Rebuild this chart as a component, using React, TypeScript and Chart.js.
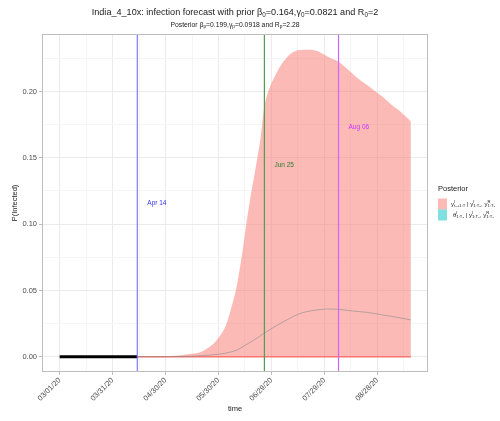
import React, { useEffect, useRef } from "react";
import { Chart, registerables } from "chart.js";

Chart.register(...registerables);

const FONT = '"Liberation Sans", Arial, Helvetica, sans-serif';

// x values are days since 03/01/20
const tickDays = [0, 30, 60, 90, 120, 150, 180];
const tickLabels = ["03/01/20", "03/31/20", "04/30/20", "05/30/20", "06/29/20", "07/29/20", "08/28/20"];
const yTickValues = [0, 0.05, 0.1, 0.15, 0.2];

const observedDays = [0, 11, 22, 33, 44];
const observedValues = [0, 0, 0, 0, 0];

const ribbonDays = [44, 50, 55, 60, 65, 70, 75, 80, 85, 88, 91, 94, 96, 98.5, 100, 102, 104, 105, 107, 109, 111, 113.6, 116, 118, 120, 122.5, 125, 128, 131.5, 136, 141, 146, 149, 153, 158, 163, 168, 173, 178, 183, 188, 193, 199];
const ribbonUpper = [0, 0, 0.0002, 0.0004, 0.0008, 0.0014, 0.0022, 0.0035, 0.0075, 0.011, 0.016, 0.023, 0.031, 0.043, 0.051, 0.066, 0.083, 0.093, 0.111, 0.127, 0.142, 0.163, 0.1885, 0.199, 0.206, 0.213, 0.219, 0.2245, 0.229, 0.2313, 0.2315, 0.2305, 0.2285, 0.2255, 0.2225, 0.217, 0.211, 0.206, 0.201, 0.196, 0.19, 0.185, 0.1775];
const ribbonLower = ribbonDays.map(() => 0);

const medianDays = [44, 70, 80, 90, 95, 100, 105, 110, 116, 122, 130, 135, 140, 147, 153, 160, 166, 174, 181, 190, 199];
const medianValues = [0, 0.0002, 0.0008, 0.0019, 0.003, 0.0048, 0.0085, 0.0125, 0.0178, 0.0228, 0.0287, 0.032, 0.034, 0.0355, 0.036, 0.0355, 0.0345, 0.0335, 0.032, 0.03, 0.0278];

const eventDays = [44, 116, 158];
const eventLabels = ["Apr 14", "Jun 25", "Aug 06"];
const eventLineColors = ["#7a7aff", "#4e9e4e", "#cc66ff"];
const eventTextColors = ["#3333ee", "#2f7a2f", "#cc33ff"];
const eventLabelValues = [0.116, 0.1446, 0.173];

type Seg = { t: string; sup?: string; sub?: string };

function drawRich(ctx: CanvasRenderingContext2D, segs: Seg[], x: number, y: number, size: number, align: "left" | "center", color: string) {
  const base = `${size}px ${FONT}`;
  const small = `${size * 0.7}px ${FONT}`;
  ctx.save();
  ctx.textAlign = "left";
  ctx.textBaseline = "alphabetic";
  ctx.fillStyle = color;
  let total = 0;
  for (const s of segs) {
    ctx.font = base;
    total += ctx.measureText(s.t).width;
    ctx.font = small;
    total += Math.max(s.sup ? ctx.measureText(s.sup).width : 0, s.sub ? ctx.measureText(s.sub).width : 0);
  }
  let cx = align === "center" ? x - total / 2 : x;
  for (const s of segs) {
    ctx.font = base;
    ctx.fillText(s.t, cx, y);
    cx += ctx.measureText(s.t).width;
    ctx.font = small;
    let w = 0;
    if (s.sup) {
      ctx.fillText(s.sup, cx, y - size * 0.38);
      w = Math.max(w, ctx.measureText(s.sup).width);
    }
    if (s.sub) {
      ctx.fillText(s.sub, cx, y + size * 0.25);
      w = Math.max(w, ctx.measureText(s.sub).width);
    }
    cx += w;
  }
  ctx.restore();
}

const titleSegs: Seg[] = [
  { t: "India_4_10x: infection forecast with prior β", sub: "0" },
  { t: "=0.164,γ", sub: "0" },
  { t: "=0.0821 and R", sub: "0" },
  { t: "=2" },
];
const subtitleSegs: Seg[] = [
  { t: "Posterior β", sub: "p" },
  { t: "=0.199,γ", sub: "p" },
  { t: "=0.0918 and R", sub: "p" },
  { t: "=2.28" },
];
const legend1: Seg[] = [
  { t: "y", sup: "I", sub: "t₀+1:T" },
  { t: " | y", sup: "I", sub: "1:T₀" },
  { t: ", y", sup: "R", sub: "1:T₀" },
];
const legend2: Seg[] = [
  { t: "θ", sup: "I", sub: "1:T₀" },
  { t: " | y", sup: "I", sub: "1:T₀" },
  { t: ", y", sup: "R", sub: "1:T₀" },
];

const decorPlugin = {
  id: "decor",
  afterDatasetsDraw(chart: any) {
    const ctx: CanvasRenderingContext2D = chart.ctx;
    const a = chart.chartArea;
    const xs = chart.scales.x;
    const ys = chart.scales.y;
    ctx.save();
    eventDays.forEach((d, i) => {
      const px = xs.getPixelForValue(d);
      ctx.strokeStyle = eventLineColors[i];
      ctx.lineWidth = 1.2;
      ctx.beginPath();
      ctx.moveTo(px, a.top);
      ctx.lineTo(px, a.bottom);
      ctx.stroke();
      ctx.fillStyle = eventTextColors[i];
      ctx.font = `6.5px ${FONT}`;
      ctx.textAlign = "left";
      ctx.textBaseline = "middle";
      ctx.fillText(eventLabels[i], px + 10, ys.getPixelForValue(eventLabelValues[i]));
    });
    ctx.strokeStyle = "#bdbdbd";
    ctx.lineWidth = 1;
    ctx.strokeRect(a.left + 0.5, a.top + 0.5, a.right - a.left - 1, a.bottom - a.top - 1);
    ctx.restore();
  },
  afterDraw(chart: any) {
    const ctx: CanvasRenderingContext2D = chart.ctx;
    const a = chart.chartArea;
    const cxm = (a.left + a.right) / 2;
    drawRich(ctx, titleSegs, cxm, 14.5, 9.1, "center", "#1a1a1a");
    drawRich(ctx, subtitleSegs, cxm, 26.5, 6.8, "center", "#1a1a1a");
    ctx.save();
    ctx.fillStyle = "#1a1a1a";
    ctx.font = `7.5px ${FONT}`;
    ctx.textAlign = "center";
    ctx.textBaseline = "middle";
    ctx.fillText("time", cxm, 409);
    ctx.translate(15, (a.top + a.bottom) / 2);
    ctx.rotate(-Math.PI / 2);
    ctx.fillText("P(Infected)", 0, 0);
    ctx.restore();
    ctx.save();
    ctx.fillStyle = "#1a1a1a";
    ctx.font = `7.5px ${FONT}`;
    ctx.textAlign = "left";
    ctx.textBaseline = "middle";
    ctx.fillText("Posterior", 438, 189);
    ctx.fillStyle = "rgba(248,118,109,0.5)";
    ctx.fillRect(438, 198.5, 9, 11);
    ctx.fillStyle = "rgba(0,191,196,0.5)";
    ctx.fillRect(438, 209.5, 9, 11);
    ctx.restore();
    drawRich(ctx, legend1, 451, 205.5, 6, "left", "#1a1a1a");
    drawRich(ctx, legend2, 453, 216.5, 6, "left", "#1a1a1a");
  },
};

export default function App() {
  const ref = useRef<HTMLCanvasElement | null>(null);
  useEffect(() => {
    if (!ref.current) return;
    const pts = (xs: number[], ys: number[]) => xs.map((x, i) => ({ x, y: ys[i] }));
    const chart = new Chart(ref.current, {
      type: "line",
      data: {
        datasets: [
          {
            label: "lower",
            data: pts(ribbonDays, ribbonLower),
            borderColor: "#f8766d",
            borderWidth: 1.3,
            pointRadius: 0,
            fill: false,
            order: 3,
          },
          {
            label: "upper",
            data: pts(ribbonDays, ribbonUpper),
            borderWidth: 0,
            borderColor: "rgba(0,0,0,0)",
            backgroundColor: "rgba(248,118,109,0.5)",
            pointRadius: 0,
            fill: "origin",
            cubicInterpolationMode: "monotone",
            order: 4,
          },
          {
            label: "median",
            data: pts(medianDays, medianValues),
            borderColor: "rgba(140,140,140,0.6)",
            borderWidth: 1,
            pointRadius: 0,
            fill: false,
            cubicInterpolationMode: "monotone",
            order: 2,
          },
          {
            label: "observed",
            data: pts(observedDays, observedValues),
            borderColor: "#000000",
            borderWidth: 3,
            pointRadius: 0,
            fill: false,
            order: 1,
          },
        ],
      },
      options: {
        animation: false,
        responsive: false,
        devicePixelRatio: 1,
        layout: { padding: { top: 34, right: 72, left: 0, bottom: 0 } },
        plugins: { legend: { display: false }, tooltip: { enabled: false }, title: { display: false } },
        scales: {
          x: {
            type: "linear",
            min: -10,
            max: 208.7,
            afterFit: (s: any) => { s.height = 49; },
            afterBuildTicks: (s: any) => {
              const t = [];
              for (let v = 0; v <= 195; v += 15) t.push({ value: v });
              s.ticks = t;
            },
            ticks: {
              autoSkip: false,
              minRotation: 45,
              maxRotation: 45,
              padding: 1,
              color: "#4d4d4d",
              font: { family: FONT, size: 7.5 },
              callback: (v: any) => {
                const i = tickDays.indexOf(Number(v));
                return i >= 0 ? tickLabels[i] : "";
              },
            },
            grid: {
              color: (c: any) => (c.tick && tickDays.includes(c.tick.value) ? "#ebebeb" : "#f5f5f5"),
              tickColor: (c: any) => (c.tick && tickDays.includes(c.tick.value) ? "#bdbdbd" : "rgba(0,0,0,0)"),
              tickLength: 3,
              lineWidth: 1,
            },
            border: { display: false },
          },
          y: {
            type: "linear",
            min: -0.0115,
            max: 0.2434,
            afterFit: (s: any) => { s.width = 42; },
            afterBuildTicks: (s: any) => {
              const t = [];
              for (let k = 0; k <= 9; k++) t.push({ value: Math.round(k * 0.025 * 1000) / 1000 });
              s.ticks = t;
            },
            ticks: {
              padding: 2,
              color: "#4d4d4d",
              font: { family: FONT, size: 7.5 },
              callback: (v: any) => {
                const n = Number(v);
                return yTickValues.some((y) => Math.abs(y - n) < 1e-6) ? n.toFixed(2) : "";
              },
            },
            grid: {
              color: (c: any) => (c.tick && yTickValues.some((y) => Math.abs(y - c.tick.value) < 1e-6) ? "#ebebeb" : "#f5f5f5"),
              tickColor: (c: any) => (c.tick && yTickValues.some((y) => Math.abs(y - c.tick.value) < 1e-6) ? "#bdbdbd" : "rgba(0,0,0,0)"),
              tickLength: 3,
              lineWidth: 1,
            },
            border: { display: false },
          },
        },
      },
      plugins: [decorPlugin],
    } as any);
    return () => chart.destroy();
  }, []);
  return (
    <div style={{ position: "fixed", left: 0, top: 0, width: 500, height: 421, background: "#fff" }}>
      <canvas ref={ref} width={500} height={421} style={{ display: "block" }} />
    </div>
  );
}
